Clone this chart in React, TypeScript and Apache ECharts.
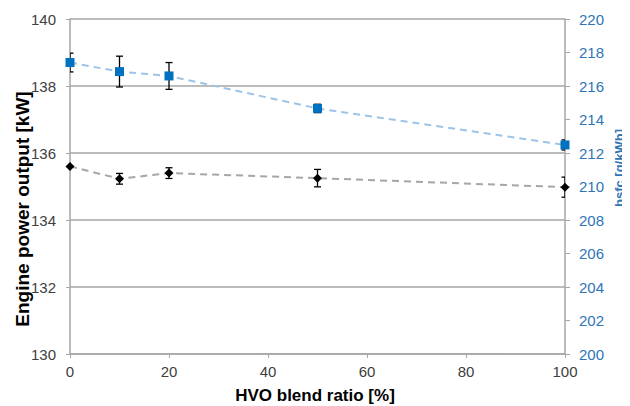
import React, { useEffect, useRef } from "react";
import * as echarts from "echarts";

const blendRatio = [0, 10, 20, 50, 100];
const powerKW = [135.6, 135.23, 135.4, 135.25, 134.98];
const powerErr = [0, 0.16, 0.16, 0.26, 0.3];
const bsfc = [217.4, 216.86, 216.6, 214.66, 212.48];
const bsfcErr = [0.56, 0.92, 0.8, 0.25, 0.3];
const xTicks = [0, 20, 40, 60, 80, 100];

const xName = "HVO blend ratio [%]";
const yLeftName = "Engine power output [kW]";
const yRightName = "bsfc [g/kWh]";

const FONT = "Liberation Sans, Arial, sans-serif";

function errorRender(params: any, api: any) {
  const x = api.value(0);
  const lo = api.value(1);
  const hi = api.value(2);
  const top = api.coord([x, hi]);
  const bot = api.coord([x, lo]);
  const hw = 3.5;
  const style = { stroke: "#000", lineWidth: 1.3 };
  return {
    type: "group",
    children: [
      { type: "line", shape: { x1: top[0], y1: top[1], x2: bot[0], y2: bot[1] }, style },
      { type: "line", shape: { x1: top[0] - hw, y1: top[1], x2: top[0] + hw, y2: top[1] }, style },
      { type: "line", shape: { x1: bot[0] - hw, y1: bot[1], x2: bot[0] + hw, y2: bot[1] }, style },
    ],
  };
}

export default function App() {
  const ref = useRef<HTMLDivElement>(null);
  useEffect(() => {
    const chart = echarts.init(ref.current!, undefined, { renderer: "svg" });
    const axisGray = "#a6a6a6";
    const labelGray = "#404040";
    const blueText = "#2e75b6";
    chart.setOption({
      animation: false,
      textStyle: { fontFamily: FONT },
      grid: { left: 62, right: 65, top: 11, bottom: 52 },
      graphic: [
        {
          type: "text",
          x: 14,
          y: 201,
          rotation: Math.PI / 2,
          style: {
            text: yLeftName,
            font: "bold 19px " + FONT,
            fill: "#000",
            align: "center",
            verticalAlign: "middle",
            textAlign: "center",
            textVerticalAlign: "middle",
          },
        },
        {
          type: "text",
          x: 611,
          y: 160,
          rotation: Math.PI / 2,
          style: {
            text: yRightName,
            font: "bold 13px " + FONT,
            fill: blueText,
            align: "center",
            verticalAlign: "middle",
            textAlign: "center",
            textVerticalAlign: "middle",
          },
        },
        {
          type: "text",
          x: 307,
          y: 387,
          style: {
            text: xName,
            font: "bold 17px " + FONT,
            fill: "#000",
            align: "center",
            verticalAlign: "middle",
            textAlign: "center",
            textVerticalAlign: "middle",
          },
        },
      ],
      xAxis: {
        type: "value",
        min: xTicks[0],
        max: xTicks[xTicks.length - 1],
        interval: 20,
        axisLine: { show: true, lineStyle: { color: axisGray, width: 1.5 } },
        axisTick: { show: true, length: 4, lineStyle: { color: axisGray } },
        axisLabel: { fontSize: 15, color: labelGray, margin: 10, fontFamily: FONT },
        splitLine: { show: false },
      },
      yAxis: [
        {
          type: "value",
          min: 130,
          max: 140,
          interval: 2,
          axisLine: { show: true, lineStyle: { color: axisGray, width: 1.5 } },
          axisTick: { show: true, length: 4, lineStyle: { color: axisGray } },
          axisLabel: { fontSize: 15, color: labelGray, margin: 14, fontFamily: FONT },
          splitLine: { show: true, lineStyle: { color: axisGray, width: 1.5 } },
        },
        {
          type: "value",
          min: 200,
          max: 220,
          interval: 2,
          axisLine: { show: true, lineStyle: { color: axisGray, width: 1.5 } },
          axisTick: { show: true, length: 5, lineStyle: { color: axisGray } },
          axisLabel: { fontSize: 15, color: blueText, margin: 14, fontFamily: FONT },
          splitLine: { show: false },
        },
      ],
      series: [
        {
          type: "custom",
          yAxisIndex: 0,
          renderItem: errorRender,
          encode: { x: 0, y: [1, 2] },
          data: blendRatio.map((x, i) => [x, powerKW[i] - powerErr[i], powerKW[i] + powerErr[i]]),
          z: 3,
          clip: true,
        },
        {
          type: "custom",
          yAxisIndex: 1,
          renderItem: errorRender,
          encode: { x: 0, y: [1, 2] },
          data: blendRatio.map((x, i) => [x, bsfc[i] - bsfcErr[i], bsfc[i] + bsfcErr[i]]),
          z: 3,
          clip: true,
        },
        {
          type: "line",
          yAxisIndex: 0,
          data: blendRatio.map((x, i) => [x, powerKW[i]]),
          symbol: "diamond",
          symbolSize: 9,
          itemStyle: { color: "#000" },
          lineStyle: { color: "#a6a6a6", width: 2, type: [7, 5] },
          z: 4,
          clip: false,
        },
        {
          type: "line",
          yAxisIndex: 1,
          data: blendRatio.map((x, i) => [x, bsfc[i]]),
          symbol: "rect",
          symbolSize: 9,
          itemStyle: { color: "#0070c0" },
          lineStyle: { color: "#9dc3e6", width: 2, type: [7, 5] },
          z: 4,
          clip: false,
        },
      ],
    });
    return () => chart.dispose();
  }, []);
  return <div ref={ref} style={{ width: 622, height: 398 }} />;
}
